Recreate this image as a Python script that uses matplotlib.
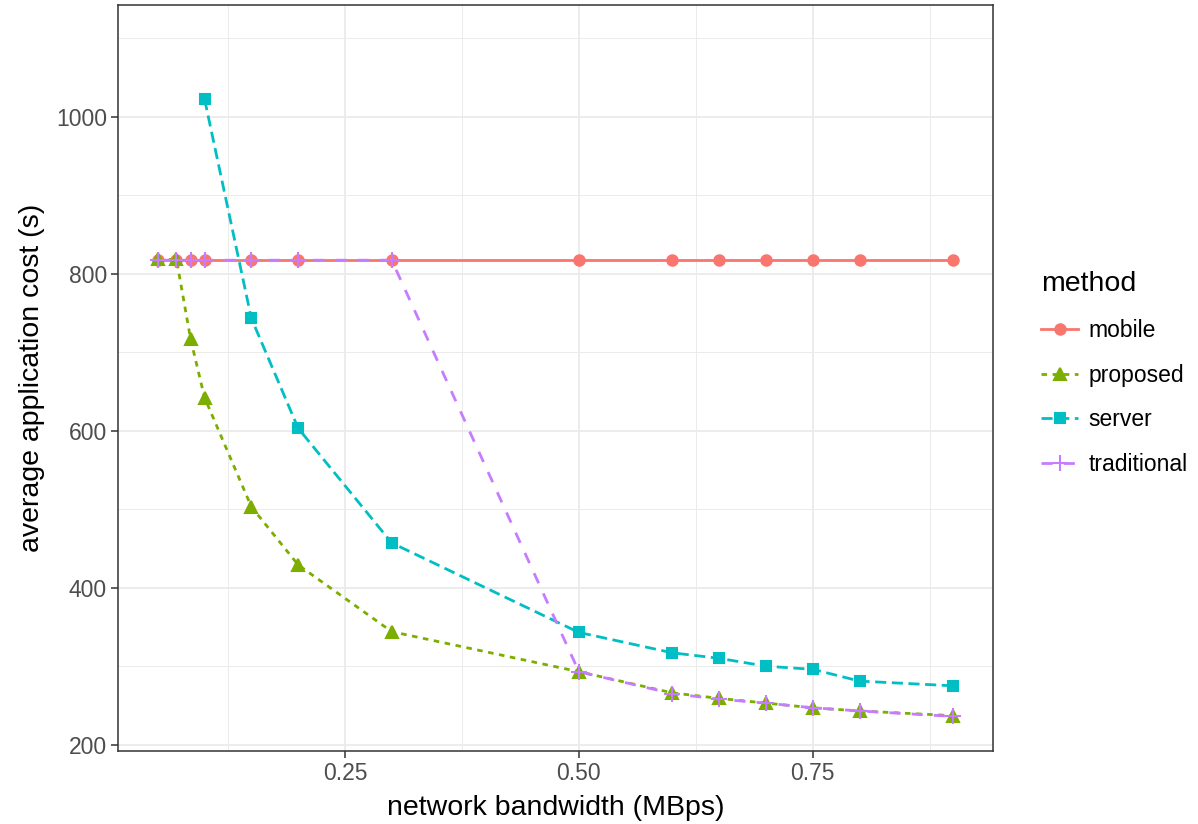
import numpy as np
import matplotlib.pyplot as plt
from matplotlib.ticker import MultipleLocator
from matplotlib.legend_handler import HandlerTuple

plt.rcParams['font.family'] = ['Liberation Sans', 'DejaVu Sans']

bandwidth = [0.05, 0.07, 0.085, 0.1, 0.15, 0.2, 0.3, 0.5, 0.6, 0.65, 0.7, 0.75, 0.8, 0.9]
mobile = [817, 817, 817, 817, 817, 817, 817, 817, 817, 817, 817, 817, 817, 817]
proposed = [818, 818, 717, 642, 503, 429, 344, 293, 266, 259, 253, 247, 243, 237]
server_x = [0.1, 0.15, 0.2, 0.3, 0.5, 0.6, 0.65, 0.7, 0.75, 0.8, 0.9]
server = [1022, 743, 603, 457, 343, 317, 310, 300, 296, 281, 275]
traditional = [817, 817, 817, 817, 817, 817, 817, 293, 265, 258, 253, 247, 243, 236]

names = ['mobile', 'proposed', 'server', 'traditional']
colors = ['#F8766D', '#7CAE00', '#00BFC4', '#C77CFF']
xs = [bandwidth, bandwidth, server_x, bandwidth]
ys = [mobile, proposed, server, traditional]
dash = [None, (2, 2), (4, 2), (4, 4)]
markers = ['o', '^', 's', '+']
msizes = [7.5, 9, 7.5, 11]

fig = plt.figure(figsize=(11.98, 8.24), dpi=100)
ax = fig.add_axes([118 / 1198, 1 - 751 / 824, (993 - 118) / 1198, (751 - 5) / 824])

lw = 2.0
handles = []
# lines first, then points on top (like geom_line + geom_point)
lines = []
for x, y, c, d in zip(xs, ys, colors, dash):
    if d is None:
        l, = ax.plot(x, y, '-', color=c, lw=lw, zorder=2)
    else:
        l, = ax.plot(x, y, color=c, lw=lw, dashes=d, zorder=2)
    lines.append(l)
for i, (x, y, c, m, s) in enumerate(zip(xs, ys, colors, markers, msizes)):
    p, = ax.plot(x, y, ls='none', marker=m, ms=s, color=c, mew=1.5, zorder=3)
    handles.append((lines[i], p))

ax.set_xlim(0.0075, 0.9425)
ax.set_ylim(192, 1142)
ax.xaxis.set_minor_locator(MultipleLocator(0.125))
ax.yaxis.set_minor_locator(MultipleLocator(100))
ax.set_xticks([0.25, 0.5, 0.75])
ax.set_xticklabels(['0.25', '0.50', '0.75'])
ax.set_yticks([200, 400, 600, 800, 1000])

ax.grid(True, which='major', color='#EBEBEB', lw=1.3)
ax.grid(True, which='minor', color='#EBEBEB', lw=0.7)
ax.set_axisbelow(True)
for s in ax.spines.values():
    s.set_color('#333333')
    s.set_linewidth(1.1)
ax.tick_params(which='major', length=5, width=1.1, color='#333333',
               labelsize=16.5, labelcolor='#4D4D4D', pad=3)
ax.tick_params(which='minor', length=0)

ax.set_xlabel('network bandwidth (MBps)', fontsize=20.5, labelpad=7)
ax.set_ylabel('average application cost (s)', fontsize=20.5, labelpad=8)

leg = fig.legend(handles, names, loc='upper left',
                 bbox_to_anchor=(1032 / 1198, 1 - 262 / 824),
                 handler_map={tuple: HandlerTuple(ndivide=1, pad=0)},
                 title='method', frameon=False, fontsize=16.5, title_fontsize=20.5,
                 handlelength=1.6, handletextpad=0.45, labelspacing=0.95,
                 borderaxespad=0, alignment='left')

fig.savefig('out.png', dpi=100)
